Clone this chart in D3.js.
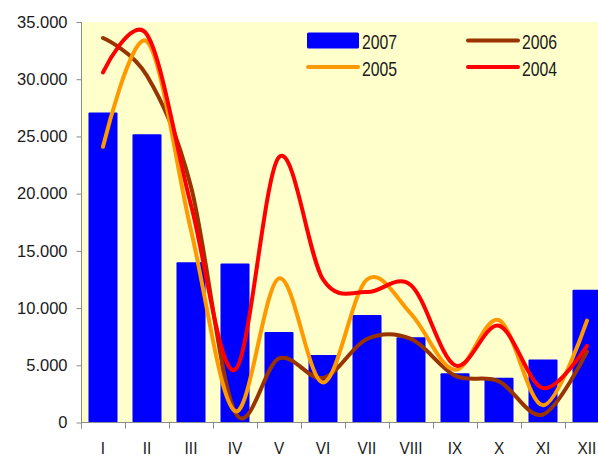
<!DOCTYPE html>
<html>
<head>
<meta charset="utf-8">
<script src="https://cdn.jsdelivr.net/npm/d3@7"></script>
<style>
  html, body { margin: 0; padding: 0; background: #fff; overflow: hidden; }
  svg { display: block; font-family: "Liberation Sans", Arial, sans-serif; }
</style>
</head>
<body>
<svg id="chart" width="598" height="457"></svg>
<script>
// Monthly figures, 2004–2007
const months = ["I", "II", "III", "IV", "V", "VI", "VII", "VIII", "IX", "X", "XI", "XII"];
const values2007 = [27100, 25200, 14000, 13900, 7900, 5900, 9400, 7450, 4300, 3900, 5500, 11600];
const values2006 = [33600, 30300, 20600, 900, 5600, 3900, 7300, 7300, 4100, 3600, 700, 6200];
const values2005 = [24100, 33300, 16800, 1000, 12600, 3500, 12500, 9500, 4600, 8950, 1500, 8900];
const values2004 = [30600, 33900, 19000, 4600, 23200, 12500, 11400, 12000, 5000, 8450, 3000, 6700];
const yTicks = [0, 5000, 10000, 15000, 20000, 25000, 30000, 35000];

const lineSeries = [
  { name: "2006", values: values2006, color: "#993300" },
  { name: "2005", values: values2005, color: "#FF9900" },
  { name: "2004", values: values2004, color: "#FF0000" }
];
const barColor = "#0000FF";

const svg = d3.select("#chart");
const plotLeft = 81, plotTop = 22, plotBottom = 422.5, step = 44;
const plotRight = plotLeft + step * months.length;

const x = d3.scaleBand().domain(months).range([plotLeft, plotRight])
  .paddingInner(0.34).paddingOuter(0.17);
const y = d3.scaleLinear().domain([0, 35000]).range([plotBottom, plotTop]);
const cx = m => x(m) + x.bandwidth() / 2;

const de = d3.formatLocale({ decimal: ",", thousands: ".", grouping: [3], currency: ["", ""] });
const fmt = de.format(",d");

// plot background
svg.append("rect")
  .attr("x", plotLeft + 0.5).attr("y", plotTop)
  .attr("width", plotRight - plotLeft).attr("height", plotBottom - plotTop)
  .attr("fill", "#FFFFCC");

// bars (2007)
svg.append("g").selectAll("rect")
  .data(months.map((m, i) => ({ m, v: values2007[i] })))
  .join("rect")
  .attr("x", d => x(d.m))
  .attr("y", d => y(d.v))
  .attr("width", x.bandwidth())
  .attr("height", d => y(0) - y(d.v))
  .attr("rx", 1)
  .attr("fill", barColor);

// smoothed lines (2006, 2005, 2004)
const line = d3.line()
  .x((d, i) => cx(months[i]))
  .y(d => y(d))
  .curve(d3.curveCardinal.tension(0));

svg.append("g").selectAll("path")
  .data(lineSeries)
  .join("path")
  .attr("d", s => line(s.values))
  .attr("fill", "none")
  .attr("stroke", s => s.color)
  .attr("stroke-width", 4)
  .attr("stroke-linecap", "round")
  .attr("stroke-linejoin", "round");

// y axis
const yAxis = svg.append("g")
  .attr("transform", `translate(${plotLeft + 0.5},0)`)
  .call(d3.axisLeft(y).tickValues(yTicks).tickFormat(fmt).tickSize(5).tickPadding(9).tickSizeOuter(0));
yAxis.select(".domain").attr("stroke", "#8c8c8c").attr("d", `M0,${plotTop}V${plotBottom + 6}`);
yAxis.selectAll(".tick line").attr("stroke", "#8c8c8c");
yAxis.selectAll(".tick text")
  .attr("font-size", "16.5px")
  .attr("font-family", "Liberation Sans, Arial, sans-serif")
  .attr("fill", "#1a1a1a");

// x axis
const xg = svg.append("g");
xg.append("line")
  .attr("x1", plotLeft).attr("x2", plotRight)
  .attr("y1", plotBottom).attr("y2", plotBottom)
  .attr("stroke", "#8c8c8c");
xg.selectAll("line.tk")
  .data(months.concat(["end"]))
  .join("line")
  .attr("class", "tk")
  .attr("x1", (d, i) => Math.round(plotLeft + i * x.step()) + 0.5)
  .attr("x2", (d, i) => Math.round(plotLeft + i * x.step()) + 0.5)
  .attr("y1", plotBottom).attr("y2", plotBottom + 6)
  .attr("stroke", "#8c8c8c");
xg.selectAll("text")
  .data(months)
  .join("text")
  .attr("transform", m => `translate(${cx(m)},453.5) scale(0.96,1)`)
  .attr("text-anchor", "middle")
  .attr("font-size", "16px")
  .attr("fill", "#1a1a1a")
  .text(m => m);

// legend
const legend = svg.append("g");
const legendItems = [
  { name: "2007", type: "bar", color: barColor, x: 307, y: 40.5 },
  { name: "2006", type: "line", color: "#993300", x: 467, y: 40.5 },
  { name: "2005", type: "line", color: "#FF9900", x: 307, y: 67 },
  { name: "2004", type: "line", color: "#FF0000", x: 467, y: 67 }
];
legendItems.forEach(it => {
  if (it.type === "bar") {
    legend.append("rect")
      .attr("x", it.x).attr("y", it.y - 8)
      .attr("width", 52).attr("height", 16)
      .attr("rx", 1.5).attr("fill", it.color);
  } else {
    legend.append("line")
      .attr("x1", it.x + 1).attr("x2", it.x + 51)
      .attr("y1", it.y).attr("y2", it.y)
      .attr("stroke", it.color).attr("stroke-width", 4)
      .attr("stroke-linecap", "round");
  }
  legend.append("text")
    .attr("transform", `translate(${it.x + 55},${it.y + 8.5}) scale(0.79,1)`)
    .attr("font-size", "20px")
    .attr("fill", "#1a1a1a")
    .text(it.name);
});
</script>
</body>
</html>
